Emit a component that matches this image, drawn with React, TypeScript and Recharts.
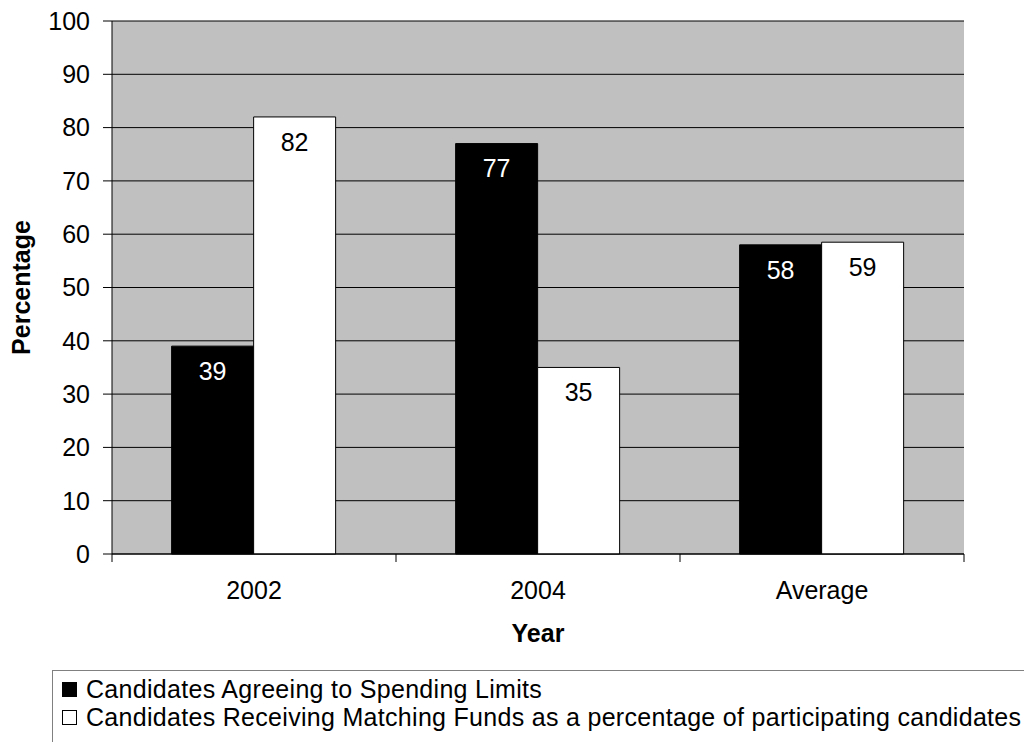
import React from 'react';
import { BarChart, Bar, XAxis, YAxis, CartesianGrid, LabelList, Legend } from 'recharts';

const years = ['2002', '2004', 'Average'];
const agreeingLimits = [39, 77, 58];
const matchingFunds = [82, 35, 58.5];
const yTicks = [0, 10, 20, 30, 40, 50, 60, 70, 80, 90, 100];

const SERIES_A = 'Candidates Agreeing to Spending Limits';
const SERIES_B = 'Candidates Receiving Matching Funds as a percentage of participating candidates';

const data = years.map((year, i) => ({
  year,
  limits: agreeingLimits[i],
  matching: matchingFunds[i]
}));

const W = 1024;
const H = 742;
const FONT = '"Liberation Sans", Arial, sans-serif';
const FS = 25;
const margin = { top: 21, right: 60, left: 0, bottom: 88 };
const Y_AXIS_W = 112;

// excel-style x ticks: label at centre, tick marks on the category edges
const YearTick = (props: any) => {
  const { x, y, payload, index, visibleTicksCount } = props;
  const plotW = props.width || W - margin.left - margin.right - Y_AXIS_W;
  const step = plotW / (visibleTicksCount || years.length);
  const left = x - step / 2;
  return (
    <g>
      <line x1={left} y1={y} x2={left} y2={y + 8} stroke="#000" />
      {index === visibleTicksCount - 1 && (
        <line x1={x + step / 2} y1={y} x2={x + step / 2} y2={y + 8} stroke="#000" />
      )}
      <text x={x} y={y + 36} dy="0.36em" textAnchor="middle" fontSize={FS} fill="#000" fontFamily={FONT}>
        {payload.value}
      </text>
    </g>
  );
};

const LegendBox = () => (
  <div
    style={{
      border: '1px solid #808080',
      background: '#fff',
      width: 1000,
      height: 80,
      boxSizing: 'border-box',
      padding: '4px 0 0 9px',
      fontFamily: FONT,
      fontSize: FS,
      letterSpacing: '0.3px',
      color: '#000',
      lineHeight: '28px'
    }}
  >
    {[{ name: SERIES_A, fill: '#000' }, { name: SERIES_B, fill: '#fff' }].map((s) => (
      <div key={s.name} style={{ display: 'flex', alignItems: 'center', whiteSpace: 'nowrap' }}>
        <span
          style={{
            display: 'inline-block',
            width: 15,
            height: 15,
            background: s.fill,
            border: '1px solid #000',
            boxSizing: 'border-box',
            marginRight: 9,
            flexShrink: 0
          }}
        />
        {s.name}
      </div>
    ))}
  </div>
);

export default function App() {
  return (
    <div style={{ position: 'absolute', left: 0, top: 0, width: W, height: H, overflow: 'hidden', background: '#fff' }}>
      <BarChart width={W} height={H} data={data} margin={margin} barCategoryGap="21%" barGap={0}>
        <CartesianGrid vertical={false} horizontal stroke="#000" fill="#C0C0C0" fillOpacity={1} />
        <XAxis
          dataKey="year"
          tickLine={false}
          tickSize={0}
          tickMargin={0}
          height={100}
          axisLine={{ stroke: '#000' }}
          tick={<YearTick />}
          label={{
            value: 'Year',
            position: 'insideBottom',
            offset: 12,
            style: { fontSize: FS, fontWeight: 'bold', fill: '#000', fontFamily: FONT }
          }}
        />
        <YAxis
          domain={[0, 100]}
          ticks={yTicks}
          width={Y_AXIS_W}
          tickSize={9}
          tickMargin={13}
          tickLine={{ stroke: '#000' }}
          axisLine={{ stroke: '#000' }}
          tick={{ fontSize: FS, fill: '#000', fontFamily: FONT }}
          label={{
            value: 'Percentage',
            angle: -90,
            position: 'insideLeft',
            offset: 21,
            style: { textAnchor: 'middle', fontSize: FS, fontWeight: 'bold', fill: '#000', fontFamily: FONT }
          }}
        />
        <YAxis yAxisId="edge" orientation="right" width={0} tick={false} tickLine={false} axisLine={{ stroke: '#808080' }} />
        <Legend
          layout="vertical"
          align="center"
          verticalAlign="middle"
          content={<LegendBox />}
          wrapperStyle={{ position: 'absolute', left: 52, top: 670, width: 1000 }}
        />
        <Bar dataKey="limits" name={SERIES_A} fill="#000" stroke="#000" isAnimationActive={false}>
          <LabelList
            dataKey="limits"
            position="insideTop"
            offset={16}
            formatter={(v: any) => Math.round(Number(v))}
            style={{ fill: '#fff', fontSize: FS, fontFamily: FONT }}
          />
        </Bar>
        <Bar dataKey="matching" name={SERIES_B} fill="#fff" stroke="#000" isAnimationActive={false}>
          <LabelList
            dataKey="matching"
            position="insideTop"
            offset={16}
            formatter={(v: any) => Math.round(Number(v))}
            style={{ fill: '#000', fontSize: FS, fontFamily: FONT }}
          />
        </Bar>
      </BarChart>
    </div>
  );
}
